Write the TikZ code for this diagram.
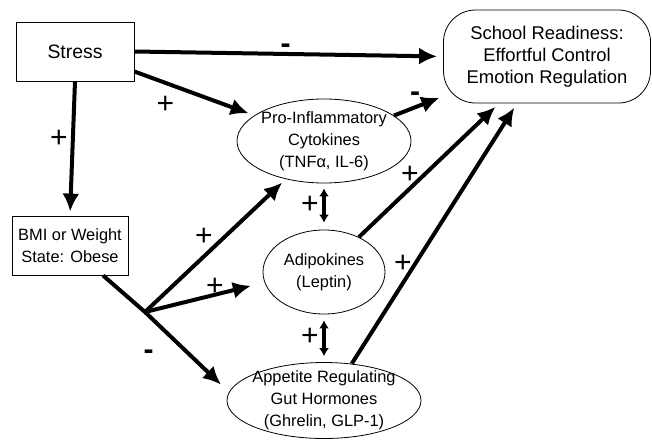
\documentclass[tikz,border=0pt]{standalone}
\usepackage{fontspec}
\setmainfont{Liberation Sans}
\usetikzlibrary{arrows.meta, shapes.geometric}

\begin{document}
\begin{tikzpicture}[
    x=1pt, y=-1pt,
    box/.style={draw, line width=0.8pt, align=center, font=\fontsize{16.4}{22}\selectfont},
    oval/.style={draw, ellipse, line width=0.8pt, align=center, inner sep=-4pt, font=\fontsize{16.4}{22}\selectfont},
    arr/.style={-{Latex[length=18pt,width=17pt]}, line width=4pt},
    dbl/.style={{Latex[length=8pt,width=10pt]}-{Latex[length=8pt,width=10pt]}, line width=3.8pt},
    sgn/.style={font=\fontsize{30}{30}\selectfont, inner sep=0pt}
  ]
    \useasboundingbox (0,0) rectangle (652,439);
    \node[box, minimum width=118pt, minimum height=59pt, font=\fontsize{19.4}{22}\selectfont] (stress) at (75,51.5) {Stress};
    \node[box, rounded corners=32pt, minimum width=207pt, minimum height=93pt, font=\fontsize{18.4}{22}\selectfont] (school) at (547,56.5) {School Readiness:\\Effortful Control\\Emotion Regulation};
    \node[oval, minimum width=174pt, minimum height=84pt] (pro) at (324,141) {Pro-Inflammatory\\Cytokines\\(TNFα, IL-6)};
    \node[box, minimum width=116pt, minimum height=59pt] (bmi) at (70,245.5) {BMI or Weight\\State: Obese};
    \node[oval, minimum width=122pt, minimum height=84pt] (adipo) at (324,272) {Adipokines\\(Leptin)};
    \node[oval, minimum width=194pt, minimum height=76pt] (appe) at (324,400.5) {Appetite Regulating\\Gut Hormones\\(Ghrelin, GLP-1)};
    \coordinate (j) at (145,312);
    \draw[arr, shorten >=6pt] (stress.east) -- (school.west);
    \draw[arr, shorten >=6pt] ([yshift=-20pt]stress.east) -- (pro);
    \draw[arr, shorten >=4pt] (stress.south) -- (bmi.north);
    \draw[arr, shorten >=4pt] (pro.20) -- (school.201);
    \draw[arr, shorten >=5pt] (adipo.45) -- ([xshift=-48pt]school.south);
    \draw[arr, shorten >=5pt] (appe.53) -- ([xshift=-30pt]school.south);
    \draw[arr, shorten >=11pt] ([xshift=33pt]bmi.south) -- (j) -- (appe.175);
    \draw[arr, shorten >=5pt] (j) -- (pro.225);
    \draw[arr, shorten >=14pt] (j) -- (adipo.190);
    \draw[dbl, shorten <=5pt, shorten >=7pt] (pro) -- (adipo);
    \draw[dbl, shorten <=6pt, shorten >=6pt] (adipo) -- (appe);
    \node[sgn] (m1) at (285.5,48.5) {\textbf{-}};
    \node[sgn] (m2) at (415,97) {\textbf{-}};
    \node[sgn] (m3) at (148.5,354.5) {\textbf{-}};
    \node[sgn] (p1) at (165.5,105) {+};
    \node[sgn] (p2) at (59,138.5) {+};
    \node[sgn] (p3) at (410,175) {+};
    \node[sgn] (p4) at (403,263.5) {+};
    \node[sgn] (p5) at (204,236.5) {+};
    \node[sgn] (p6) at (215,286.5) {+};
    \node[sgn] (p7) at (310,204.5) {+};
    \node[sgn] (p8) at (310,336.5) {+};
  \end{tikzpicture}
\end{document}
